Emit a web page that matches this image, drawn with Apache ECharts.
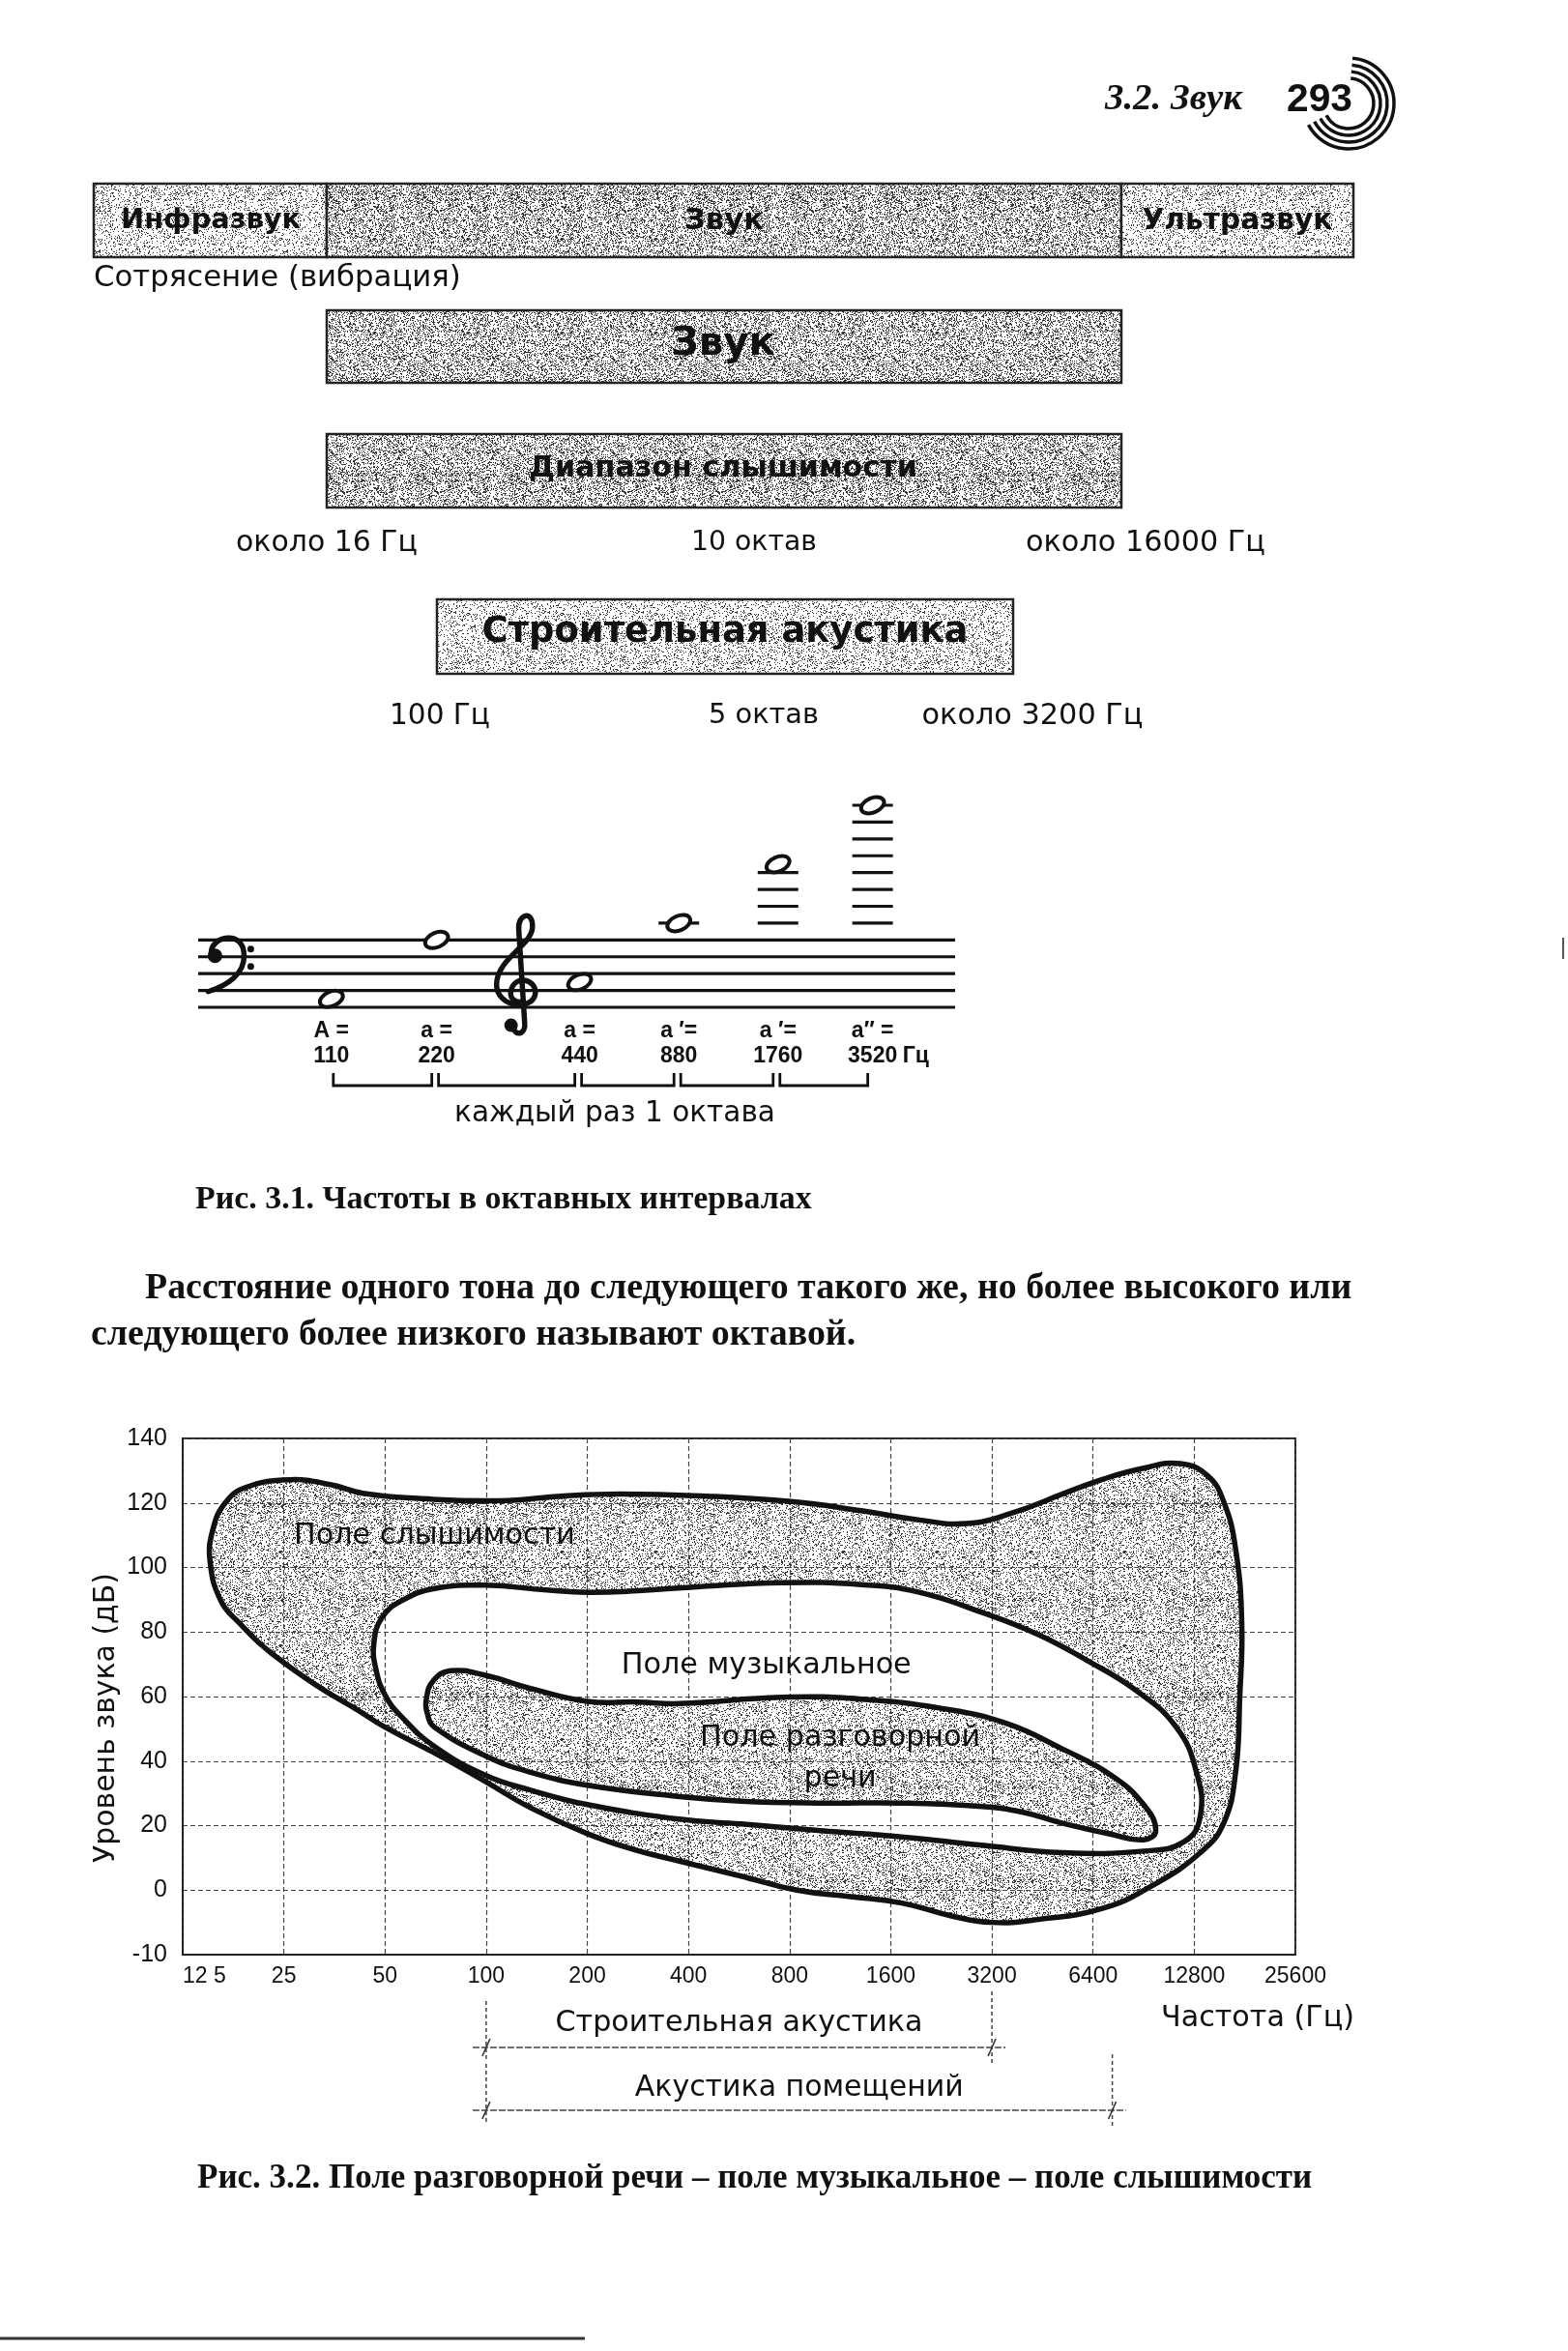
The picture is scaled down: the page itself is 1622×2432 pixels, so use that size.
<!DOCTYPE html>
<html>
<head>
<meta charset="utf-8">
<script src="https://cdn.jsdelivr.net/npm/echarts@6/dist/echarts.min.js"></script>
<style>
  html, body { margin: 0; padding: 0; background: #fff; }
  #main { width: 1622px; height: 2432px; }
</style>
</head>
<body>
<div id="main"></div>
<script>
// ---- chart data (Рис. 3.2) ----
// x: octave bands above 12.5 Hz, labelled with the frequencies below
const freqTicks = ['12 5', '25', '50', '100', '200', '400', '800', '1600', '3200', '6400', '12800', '25600'];
// the book prints -10 on the bottom line although it sits where -20 would be
const levelTicks = ['-10', '0', '20', '40', '60', '80', '100', '120', '140'];
const levelMin = -20, levelMax = 140, levelStep = 20;

// outlines: [octave band, dB]
const hearingField = [
  [1.06, 127.2], [1.46, 125.7], [1.78, 123], [2.33, 121.4], [3.13, 120.7], [3.77, 122.2], [4.32, 122.8],
  [5.12, 122.2], [5.99, 120.5], [6.71, 117.6], [7.27, 114.8], [7.75, 113.6], [8.22, 117.1], [8.7, 122.8],
  [9.1, 127.4], [9.5, 130.8], [9.86, 132.2], [10.13, 128.5], [10.29, 120.5], [10.41, 105.6], [10.47, 82.7],
  [10.45, 59.7], [10.41, 36.8], [10.29, 20.7], [10.06, 11.6], [9.58, 1.3], [9.1, -5.6], [8.46, -9.1],
  [7.99, -10], [7.6, -8], [7.11, -4], [6.6, -2], [6.07, 0], [5.5, 4.5], [4.91, 9], [4.47, 12.5],
  [4.0, 17.5], [3.44, 25.5], [3.0, 33.5], [2.49, 42.5], [2.0, 50.5], [1.72, 56], [1.37, 62.5],
  [1.0, 70.5], [0.76, 76.5], [0.57, 82.5], [0.38, 89.5], [0.27, 102], [0.3, 112], [0.42, 120], [0.62, 124.8]
];
const musicField = [
  [2.49, 93.5], [3.0, 94.5], [3.6, 93], [4.0, 92.3], [4.5, 92.8], [5.12, 94.1], [5.92, 95.3], [6.71, 94.7],
  [7.27, 92.4], [7.9, 86.1], [8.46, 79.2], [8.94, 71.2], [9.42, 62], [9.82, 50.6], [10.02, 36.8],
  [10.06, 23], [9.9, 15], [9.5, 12.1], [8.7, 11.6], [7.9, 13.9], [7.11, 16.5], [6.31, 18.4],
  [5.52, 20.5], [4.91, 22], [4.0, 26.5], [3.44, 31], [3.0, 35.5], [2.49, 44.5], [2.17, 53.5],
  [2.0, 60.5], [1.91, 68.5], [1.89, 76.5], [1.97, 84.5], [2.17, 89.8]
];
const speechField = [
  [2.65, 68], [3.0, 66.5], [3.44, 62.5], [4.0, 58.5], [4.5, 58.3], [4.91, 57.8], [5.92, 59.8], [6.71, 59.2],
  [7.51, 56.3], [8.14, 51.7], [8.7, 43.7], [9.18, 35.6], [9.5, 26.5], [9.62, 18.5], [9.5, 15.6],
  [9.18, 17.3], [8.7, 20.7], [8.3, 24.2], [7.9, 25.9], [7.11, 27], [6.31, 27], [5.52, 27.6],
  [4.91, 29], [4.0, 32.5], [3.44, 36.5], [3.0, 41.5], [2.49, 50.5], [2.42, 54.5], [2.41, 59.5], [2.48, 65]
];
const fields = [hearingField, musicField, speechField];

const fieldLabelText = ['Поле слышимости', 'Поле музыкальное', 'Поле разговорной', 'речи'];
const fieldLabelX = [1.1, 5.77, 6.5, 6.5];
const fieldLabelY = [109.7, 69.5, 47.1, 34.5];

const rangeNames = ['Строительная акустика', 'Акустика помещений'];
const rangeFrom = [3, 3];      // 100 Hz
const rangeTo = [8, 9.19];     // 3200 Hz, ~7300 Hz

// ---- octave figure (Рис. 3.1) ----
const noteFreqs = [110, 220, 440, 880, 1760, 3520];
const noteNames = ['A =', 'a =', 'a =', 'a ′=', 'a ′=', 'a″ ='];
const noteStep = [-7, 0, -5, 2, 9, 16];          // staff steps, 0 = top line
const noteX = [17.6, 31.5, 50.4, 63.5, 76.6, 89.1];
const staffSteps = [0, -2, -4, -6, -8];

const INK = '#111';

// stipple texture like the halftone of the scan
function stipple(density, size) {
  const c = document.createElement('canvas');
  c.width = c.height = size;
  const ctx = c.getContext('2d');
  ctx.fillStyle = '#fff';
  ctx.fillRect(0, 0, size, size);
  const img = ctx.getImageData(0, 0, size, size);
  for (let y = 0; y < size; y++) {
    for (let x = 0; x < size; x++) {
      const h = Math.abs(Math.sin(x * 12.9898 + y * 78.233) * 43758.5453) % 1;
      if (h < density) {
        const i = (y * size + x) * 4;
        img.data[i] = img.data[i + 1] = img.data[i + 2] = 55;
      }
    }
  }
  ctx.putImageData(img, 0, 0);
  return { type: 'pattern', image: c, repeat: 'repeat' };
}
const lightFill = stipple(0.16, 97);
const darkFill = stipple(0.3, 97);
const fieldFill = stipple(0.21, 97);
const fieldFills = [fieldFill, '#fff', fieldFill];

// font helpers: size picked so the text is as wide as in the scan
const meas = document.createElement('canvas').getContext('2d');
const SANS = { family: '"DejaVu Sans"' };
const SANS_B = { family: '"DejaVu Sans"', weight: 'bold' };
const SERIF_B = { family: '"Liberation Serif"', weight: 'bold' };
const HEAD = { family: '"Liberation Serif"', weight: 'bold', style: 'italic' };
const NUM_B = { family: '"Liberation Sans"', weight: 'bold' };

function fit(text, f, width) {
  meas.font = `${f.style || 'normal'} ${f.weight || 'normal'} 100px ${f.family}`;
  return 100 * width / meas.measureText(text).width;
}
function tstyle(text, f, size, align) {
  return {
    text, fontSize: size, fontFamily: f.family, fontWeight: f.weight || 'normal',
    fontStyle: f.style || 'normal', fill: INK,
    align: align || 'center', verticalAlign: 'middle',
    textAlign: align || 'center', textVerticalAlign: 'middle'
  };
}
function label(text, x, y, width, f, align, rot) {
  return { type: 'text', x, y, rotation: rot || 0, style: tstyle(text, f, fit(text, f, width), align) };
}
function box(x1, y1, x2, y2, fill) {
  return {
    type: 'rect', shape: { x: x1, y: y1, width: x2 - x1, height: y2 - y1 },
    style: { fill, stroke: '#222', lineWidth: 2.5 }
  };
}

const paraSize = fit('Расстояние одного тона до следующего такого же, но более высокого или', SERIF_B, 1249);
const fieldSize = fit('Поле музыкальное', SANS, 300);

const graphics = [
  // running head
  label('3.2. Звук', 1143, 103, 142, HEAD, 'left'),
  label('293', 1331, 104, 68, NUM_B, 'left'),
  ...[26, 33, 40, 47].map(r => ({
    type: 'arc',
    shape: { cx: 1395, cy: 107, r, startAngle: -85 * Math.PI / 180, endAngle: 152 * Math.PI / 180, clockwise: true },
    style: { stroke: INK, lineWidth: 3.5, fill: null }
  })),

  // frequency ranges
  box(97, 190, 338, 266, lightFill),
  box(338, 190, 1160, 266, darkFill),
  box(1160, 190, 1400, 266, lightFill),
  label('Инфразвук', 218, 229, 186, SANS_B),
  label('Звук', 749, 229, 82, SANS_B),
  label('Ультразвук', 1280, 229, 197, SANS_B),
  label('Сотрясение (вибрация)', 97, 288, 380, SANS, 'left'),

  box(338, 321, 1160, 396, darkFill),
  label('Звук', 748, 357, 108, SANS_B),
  box(338, 449, 1160, 525, darkFill),
  label('Диапазон слышимости', 748, 485, 402, SANS_B),
  label('около 16 Гц', 338, 562, 188, SANS),
  label('10 октав', 780, 562, 130, SANS),
  label('около 16000 Гц', 1185, 562, 248, SANS),

  box(452, 620, 1048, 697, lightFill),
  label('Строительная акустика', 750, 654, 503, SANS_B),
  label('100 Гц', 455, 741, 104, SANS),
  label('5 октав', 790, 741, 114, SANS),
  label('около 3200 Гц', 1068, 741, 229, SANS),

  label('каждый раз 1 октава', 636, 1152, 332, SANS),
  label('Рис. 3.1. Частоты в октавных интервалах', 202, 1241, 638, SERIF_B, 'left'),

  { type: 'text', x: 150, y: 1333, style: tstyle('Расстояние одного тона до следующего такого же, но более высокого или', SERIF_B, paraSize, 'left') },
  { type: 'text', x: 94, y: 1381, style: tstyle('следующего более низкого называют октавой.', SERIF_B, paraSize, 'left') },

  label('Уровень звука (дБ)', 110, 1777, 300, SANS, 'center', Math.PI / 2),
  label('Частота (Гц)', 1301, 2088, 200, SANS),
  label('Рис. 3.2. Поле разговорной речи – поле музыкальное – поле слышимости', 204, 2254, 1154, SERIF_B, 'left'),

  // scan edges
  { type: 'line', shape: { x1: 0, y1: 2419, x2: 605, y2: 2419 }, style: { stroke: '#333', lineWidth: 3 } },
  { type: 'line', shape: { x1: 1617, y1: 970, x2: 1617, y2: 992 }, style: { stroke: '#555', lineWidth: 2 } }
];

// clef outlines relative to their anchor line
const clefs = [
  { x: 3.5, step: -2, path: 'M-14,-4 C-14,-22 20,-28 20,-2 C21,18 2,30 -17,36', balls: [[-10, -1, 7.5], [27, -8, 3.5], [27, 10, 3.5]] },
  { x: 42.1, step: -6, path: 'M-4,38 C-2,48 10,46 8,32 L2,-62 C0,-80 18,-84 16,-64 C14,-46 -21,-32 -21,-6 C-21,17 15,22 19,4 C21,-12 -2,-17 -6,0 C-8,8 -2,12 4,12', balls: [[-6, 36, 7]] }
];

const chart = echarts.init(document.getElementById('main'), null, { renderer: 'canvas' });

chart.setOption({
  animation: false,
  backgroundColor: '#fff',
  grid: [
    { left: 189, right: 282, top: 1488, bottom: 410, show: true, borderColor: '#222', borderWidth: 2, z: 2 },
    { left: 205, right: 634, top: 833, bottom: 1390, show: false }
  ],
  xAxis: [
    {
      gridIndex: 0, type: 'value', min: 0, max: freqTicks.length - 1, interval: 1, z: 2,
      axisLine: { show: true, onZero: false, lineStyle: { color: '#222', width: 2 } },
      axisTick: { show: false },
      splitLine: { show: true, lineStyle: { color: '#444', width: 1.2, type: [5, 3] } },
      axisLabel: {
        formatter: v => freqTicks[Math.round(v)], margin: 11, color: INK,
        fontFamily: '"Liberation Sans"', fontSize: 23, alignMinLabel: 'left'
      }
    },
    { gridIndex: 1, type: 'value', min: 0, max: 100, show: false }
  ],
  yAxis: [
    {
      gridIndex: 0, type: 'value', min: levelMin, max: levelMax, interval: levelStep, z: 2,
      axisLine: { show: true, onZero: false, lineStyle: { color: '#222', width: 2 } },
      axisTick: { show: false },
      splitLine: { show: true, lineStyle: { color: '#444', width: 1.2, type: [5, 3] } },
      axisLabel: {
        formatter: v => levelTicks[Math.round((v - levelMin) / levelStep)], margin: 16, color: INK,
        fontFamily: '"Liberation Sans"', fontSize: 25
      }
    },
    { gridIndex: 1, type: 'value', min: -8, max: 16, show: false }
  ],
  series: [
    {
      name: 'fields-fill', type: 'custom', xAxisIndex: 0, yAxisIndex: 0, z: 1,
      data: fields.map((f, i) => [i]),
      renderItem: (params, api) => ({
        type: 'polygon',
        shape: { points: fields[params.dataIndex].map(p => api.coord(p)), smooth: 0.45 },
        style: { fill: fieldFills[params.dataIndex], stroke: null }
      })
    },
    {
      name: 'fields-line', type: 'custom', xAxisIndex: 0, yAxisIndex: 0, z: 3,
      data: fields.map((f, i) => [i]),
      renderItem: (params, api) => ({
        type: 'polygon',
        shape: { points: fields[params.dataIndex].map(p => api.coord(p)), smooth: 0.45 },
        style: { fill: null, stroke: INK, lineWidth: 5.5 }
      })
    },
    {
      name: 'field-labels', type: 'custom', xAxisIndex: 0, yAxisIndex: 0, z: 4,
      data: fieldLabelText.map((t, i) => [fieldLabelX[i], fieldLabelY[i]]),
      renderItem: (params, api) => {
        const i = params.dataIndex;
        const p = api.coord([fieldLabelX[i], fieldLabelY[i]]);
        return { type: 'text', x: p[0], y: p[1], style: tstyle(fieldLabelText[i], SANS, fieldSize, i === 0 ? 'left' : 'center') };
      }
    },
    {
      name: 'ranges', type: 'custom', xAxisIndex: 0, yAxisIndex: 0, z: 4, clip: false,
      data: rangeNames.map((n, i) => [rangeFrom[i], rangeTo[i]]),
      renderItem: (params, api) => {
        const i = params.dataIndex;
        const a = api.coord([rangeFrom[i], levelMin]);
        const b = api.coord([rangeTo[i], levelMin]);
        const ly = a[1] + [96, 161][i];
        const ty = a[1] + [71, 138][i];
        const dash = { stroke: '#444', lineWidth: 1.5, lineDash: [4, 3] };
        const size = fit(rangeNames[i], SANS, [380, 340][i]);
        return {
          type: 'group', children: [
            { type: 'line', shape: { x1: a[0] - 14, y1: ly, x2: b[0] + 14, y2: ly }, style: { stroke: '#444', lineWidth: 1.6, lineDash: [7, 2] } },
            { type: 'line', shape: { x1: a[0], y1: ly - 48, x2: a[0], y2: ly + 14 }, style: dash },
            { type: 'line', shape: { x1: b[0], y1: ly - 58, x2: b[0], y2: ly + 16 }, style: dash },
            { type: 'line', shape: { x1: a[0] - 4, y1: ly + 9, x2: a[0] + 4, y2: ly - 9 }, style: { stroke: '#333', lineWidth: 1.6 } },
            { type: 'line', shape: { x1: b[0] - 4, y1: ly + 9, x2: b[0] + 4, y2: ly - 9 }, style: { stroke: '#333', lineWidth: 1.6 } },
            { type: 'text', x: (a[0] + b[0]) / 2, y: ty, style: tstyle(rangeNames[i], SANS, size) }
          ]
        };
      }
    },
    {
      name: 'staff', type: 'custom', xAxisIndex: 1, yAxisIndex: 1,
      data: staffSteps.map(s => [0, s]),
      renderItem: (params, api) => {
        const s = staffSteps[params.dataIndex];
        const p0 = api.coord([0, s]), p1 = api.coord([100, s]);
        return { type: 'line', shape: { x1: p0[0], y1: p0[1], x2: p1[0], y2: p1[1] }, style: { stroke: INK, lineWidth: 3.2 } };
      }
    },
    {
      name: 'clefs', type: 'custom', xAxisIndex: 1, yAxisIndex: 1,
      data: clefs.map(c => [c.x, c.step]),
      renderItem: (params, api) => {
        const c = clefs[params.dataIndex];
        const p = api.coord([c.x, c.step]);
        return {
          type: 'group', x: p[0], y: p[1], children: [
            { type: 'path', shape: { pathData: c.path }, style: { fill: null, stroke: INK, lineWidth: 5.5, lineCap: 'round' } },
            ...c.balls.map(b => ({ type: 'circle', shape: { cx: b[0], cy: b[1], r: b[2] }, style: { fill: INK } }))
          ]
        };
      }
    },
    {
      name: 'notes', type: 'custom', xAxisIndex: 1, yAxisIndex: 1,
      data: noteFreqs.map((f, i) => [noteX[i], noteStep[i]]),
      renderItem: (params, api) => {
        const i = params.dataIndex;
        const [cx, cy] = api.coord([noteX[i], noteStep[i]]);
        const base = api.coord([noteX[i], -8])[1];
        const kids = [];
        for (let s = 2; s <= noteStep[i]; s += 2) {
          const ly = api.coord([noteX[i], s])[1];
          kids.push({ type: 'line', shape: { x1: cx - 21, y1: ly, x2: cx + 21, y2: ly }, style: { stroke: INK, lineWidth: 3.2 } });
        }
        kids.push({
          type: 'ellipse', x: cx, y: cy, rotation: 0.4,
          shape: { cx: 0, cy: 0, rx: 12.5, ry: 7.5 },
          style: { fill: '#fff', stroke: INK, lineWidth: 4 }
        });
        kids.push({ type: 'text', x: cx, y: base + 25, style: tstyle(noteNames[i], NUM_B, 23) });
        kids.push({ type: 'text', x: cx, y: base + 51, style: tstyle(String(noteFreqs[i]), NUM_B, 23) });
        if (i === noteFreqs.length - 1) {
          kids.push({ type: 'text', x: cx + 31, y: base + 51, style: tstyle('Гц', NUM_B, 23, 'left') });
        } else {
          const nx = api.coord([noteX[i + 1], -8])[0];
          kids.push({
            type: 'polyline',
            shape: { points: [[cx + 2, base + 68], [cx + 2, base + 81], [nx - 5, base + 81], [nx - 5, base + 68]] },
            style: { fill: null, stroke: INK, lineWidth: 2.8 }
          });
        }
        return { type: 'group', children: kids };
      }
    }
  ],
  graphic: { elements: graphics }
});
</script>
</body>
</html>
